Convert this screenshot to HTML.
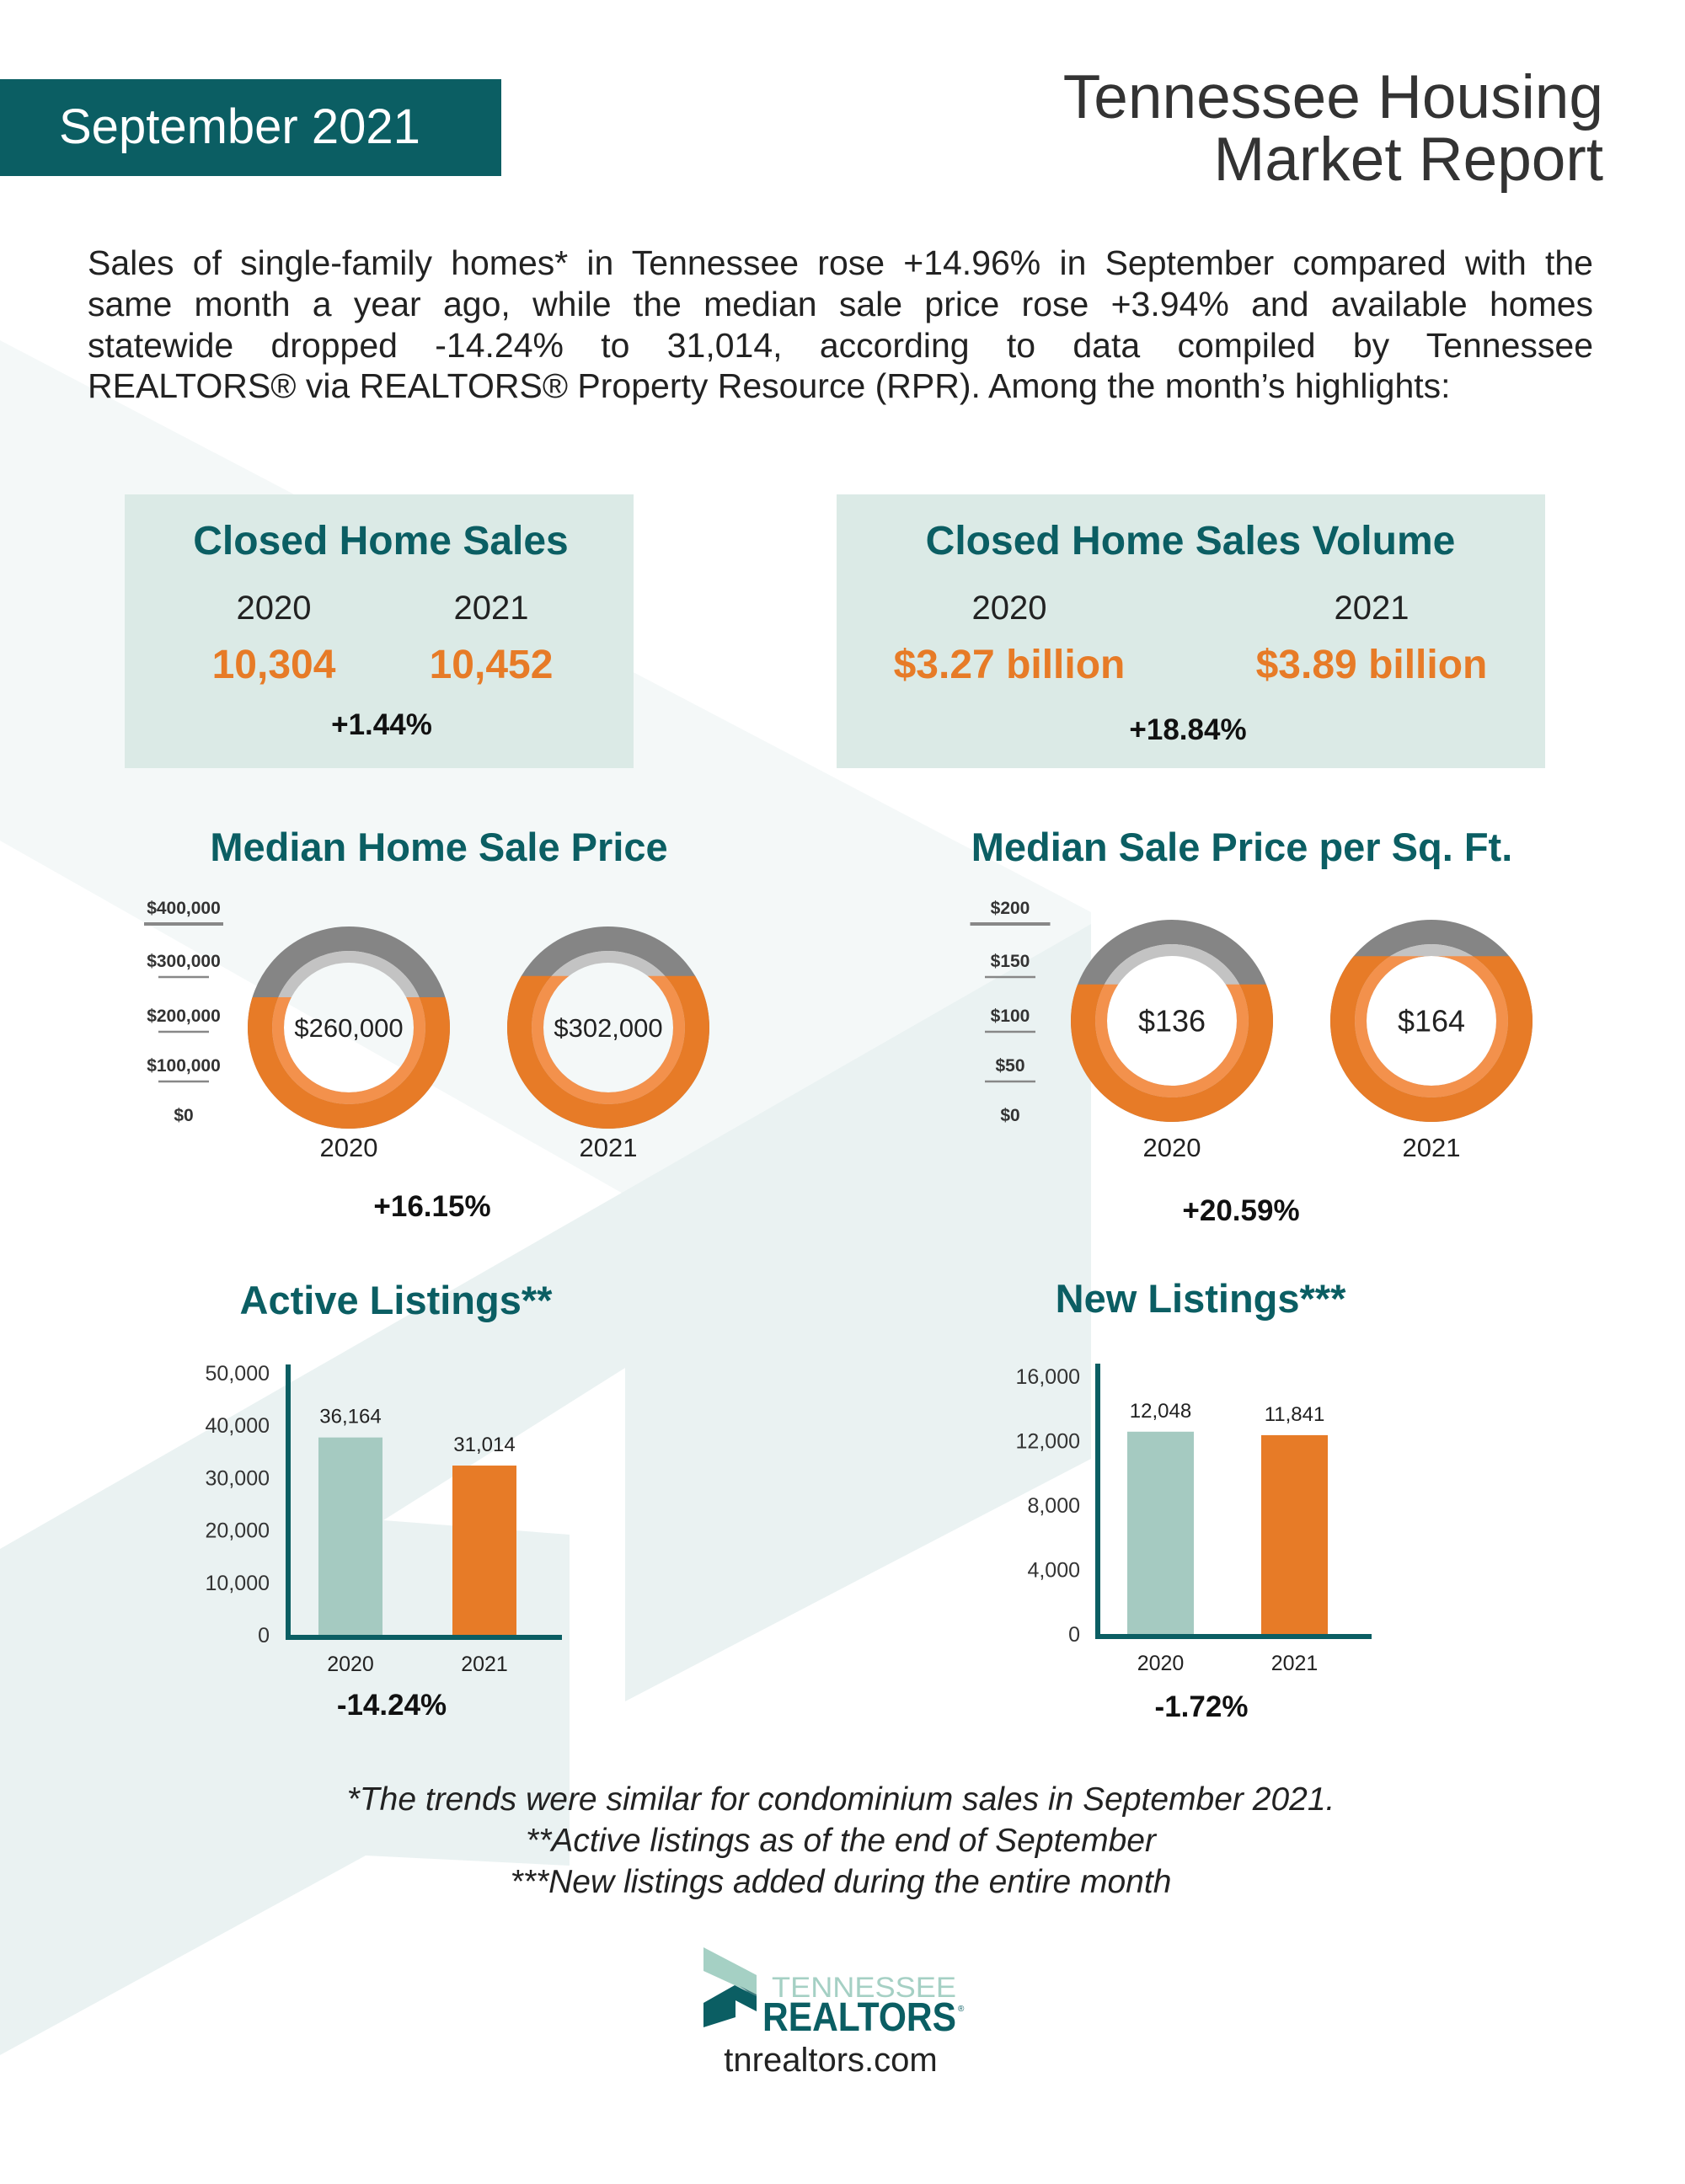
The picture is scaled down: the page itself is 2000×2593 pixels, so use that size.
<!DOCTYPE html>
<html><head><meta charset="utf-8"><style>
html,body{margin:0;padding:0;background:#fff;}
svg{display:block;font-family:"Liberation Sans",sans-serif;}
</style></head><body>
<svg id="page" width="2000" height="2593" viewBox="0 0 2000 2593" xmlns="http://www.w3.org/2000/svg">
<g>
<polygon points="0,404 1295,1083 1295,1732 0,998" fill="#f4f8f8"/>
<polygon points="0,1839 1295,1097 1295,1732 742,2020 742,1624 455,1805 676,1822 676,2215 434,2203 0,2440" fill="#eaf2f2"/>
</g>
<g>
<rect x="0" y="94" width="595" height="115" fill="#0b5e63"/>
<text x="70" y="170" font-size="58" fill="#fff">September 2021</text>
<text text-anchor="end" font-size="73" fill="#333">
<tspan x="1903" y="140">Tennessee Housing</tspan><tspan x="1903" y="214">Market Report</tspan></text>
</g>
<g font-size="41" fill="#222">
<text class="just" x="104" y="326" data-w="1787">Sales of single-family homes* in Tennessee rose +14.96% in September compared with the</text>
<text class="just" x="104" y="375" data-w="1787">same month a year ago, while the median sale price rose +3.94% and available homes</text>
<text class="just" x="104" y="424" data-w="1787">statewide dropped -14.24% to 31,014, according to data compiled by Tennessee</text>
<text class="fit" x="104" y="472" data-w="1710">REALTORS® via REALTORS® Property Resource (RPR). Among the month’s highlights:</text>
</g>
<g>
<rect x="148" y="587" width="604" height="325" fill="#dbeae6"/>
<text x="452" y="658" text-anchor="middle" font-size="48" font-weight="bold" fill="#0b5e63">Closed Home Sales</text>
<text x="325" y="735" text-anchor="middle" font-size="40" fill="#222">2020</text>
<text x="583" y="735" text-anchor="middle" font-size="40" fill="#222">2021</text>
<text x="325" y="805" text-anchor="middle" font-size="48" font-weight="bold" fill="#e77b27">10,304</text>
<text x="583" y="805" text-anchor="middle" font-size="48" font-weight="bold" fill="#e77b27">10,452</text>
<text x="453" y="872" text-anchor="middle" font-size="35" font-weight="bold" fill="#111">+1.44%</text>
</g>
<g>
<rect x="993" y="587" width="841" height="325" fill="#dbeae6"/>
<text x="1413" y="658" text-anchor="middle" font-size="48" font-weight="bold" fill="#0b5e63">Closed Home Sales Volume</text>
<text x="1198" y="735" text-anchor="middle" font-size="40" fill="#222">2020</text>
<text x="1628" y="735" text-anchor="middle" font-size="40" fill="#222">2021</text>
<text x="1198" y="805" text-anchor="middle" font-size="48" font-weight="bold" fill="#e77b27">$3.27 billion</text>
<text x="1628" y="805" text-anchor="middle" font-size="48" font-weight="bold" fill="#e77b27">$3.89 billion</text>
<text x="1410" y="878" text-anchor="middle" font-size="35" font-weight="bold" fill="#111">+18.84%</text>
</g>
<text x="521" y="1022" text-anchor="middle" font-size="47" font-weight="bold" fill="#0b5e63">Median Home Sale Price</text>
<text x="1474" y="1022" text-anchor="middle" font-size="47" font-weight="bold" fill="#0b5e63">Median Sale Price per Sq. Ft.</text>
<g id="donuts"></g>
<text x="513" y="1444" text-anchor="middle" font-size="35" font-weight="bold" fill="#111">+16.15%</text>
<text x="1473" y="1449" text-anchor="middle" font-size="35" font-weight="bold" fill="#111">+20.59%</text>
<text x="470" y="1560" text-anchor="middle" font-size="47" font-weight="bold" fill="#0b5e63">Active Listings**</text>
<text x="1425" y="1558" text-anchor="middle" font-size="47" font-weight="bold" fill="#0b5e63">New Listings***</text>
<g id="bars"></g>
<text x="465" y="2036" text-anchor="middle" font-size="35" font-weight="bold" fill="#111">-14.24%</text>
<text x="1426" y="2038" text-anchor="middle" font-size="35" font-weight="bold" fill="#111">-1.72%</text>
<g font-size="39" font-style="italic" fill="#222" text-anchor="middle">
<text x="998" y="2149">*The trends were similar for condominium sales in September 2021.</text>
<text x="998" y="2198">**Active listings as of the end of September</text>
<text x="998" y="2247">***New listings added during the entire month</text>
</g>
<g>
<polygon points="835,2312 898,2345 898,2368 872,2357 835,2340" fill="#a5d0c4"/>
<polygon points="878,2358 898,2368 898,2370 888,2365" fill="#3f7a7c"/>
<polygon points="835,2378 872,2357 898,2370 898,2388 873,2375 873,2395 835,2407" fill="#0b5e63"/>
<text x="916" y="2371" font-size="34" fill="#a5d0c4" textLength="219" lengthAdjust="spacingAndGlyphs">TENNESSEE</text>
<text x="905" y="2411" font-size="48" font-weight="bold" fill="#0b5e63" textLength="230" lengthAdjust="spacingAndGlyphs">REALTORS</text>
<text x="1137" y="2388" font-size="10" fill="#0b5e63">®</text>
<text x="986" y="2459" text-anchor="middle" font-size="40" fill="#222">tnrealtors.com</text>
</g>
</svg>
<script>
const NS='http://www.w3.org/2000/svg';
// Donut data
const priceYears=['2020','2021'];
const priceValues=[260000,302000];
const priceLabels=['$260,000','$302,000'];
const priceMax=400000;
const priceTicks=['$400,000','$300,000','$200,000','$100,000','$0'];
const sqftYears=['2020','2021'];
const sqftValues=[136,164];
const sqftLabels=['$136','$164'];
const sqftMax=200;
const sqftTicks=['$200','$150','$100','$50','$0'];
// Bar data
const activeYears=['2020','2021'];
const activeValues=[36164,31014];
const activeValueLabels=['36,164','31,014'];
const activeTicks=[50000,40000,30000,20000,10000,0];
const activeTickLabels=['50,000','40,000','30,000','20,000','10,000','0'];
const newYears=['2020','2021'];
const newValues=[12048,11841];
const newValueLabels=['12,048','11,841'];
const newTicks=[16000,12000,8000,4000,0];
const newTickLabels=['16,000','12,000','8,000','4,000','0'];

document.querySelectorAll('text.just').forEach(t=>{
  const target=+t.getAttribute('data-w');
  const len=t.getComputedTextLength();
  const gaps=(t.textContent.match(/ /g)||[]).length;
  if(gaps>0&&len<target){t.setAttribute('word-spacing',((target-len)/gaps).toFixed(2));}
  else if(len>target){t.setAttribute('textLength',target);t.setAttribute('lengthAdjust','spacingAndGlyphs');}
});
document.querySelectorAll('text.fit').forEach(t=>{
  const target=+t.getAttribute('data-w');
  if(t.getComputedTextLength()>target){t.setAttribute('textLength',target);t.setAttribute('lengthAdjust','spacingAndGlyphs');}
});

function mk(tag,attrs,parent){const e=document.createElementNS(NS,tag);for(const k in attrs)e.setAttribute(k,attrs[k]);parent.appendChild(e);return e;}
const dg=document.getElementById('donuts');
let clipId=0;
function donutChart(cfg){
  const g=mk('g',{},dg);
  
  
  cfg.ticks.forEach((t,i)=>{
    const ty=cfg.tickY[i];
    const tx=mk('text',{x:cfg.tickX,y:ty+7,'text-anchor':'middle','font-size':21,'font-weight':'bold',fill:'#333'},g);
    tx.textContent=t;
    
    
    if(i<cfg.ticks.length-1){
      const w=i===0?cfg.lineW0:cfg.lineW;
      const ln=mk('line',{x1:cfg.tickX-w/2,x2:cfg.tickX+w/2,y1:ty+19,y2:ty+19,stroke:'#888','stroke-width':i===0?4:2.5},g);
      
      
    }
  });
  const R=120;
  cfg.values.forEach((v,i)=>{
    const cx=cfg.cx[i], cy=cfg.cy;
    const d=mk('g',{},g);
    
    
    mk('circle',{cx:cx,cy:cy,r:105.5,fill:'none',stroke:'#858585','stroke-width':29},d);
    mk('circle',{cx:cx,cy:cy,r:84,fill:'none',stroke:'#c3c3c3','stroke-width':14},d);
    const id='clip'+(clipId++);
    const cp=mk('clipPath',{id:id},d);
    const cut=cy+R-(v/cfg.max)*2*R;
    mk('rect',{x:cx-R-2,y:cut,width:2*R+4,height:cy+R-cut+2},cp);
    const og=mk('g',{'clip-path':'url(#'+id+')'},d);
    
    
    mk('circle',{cx:cx,cy:cy,r:105.5,fill:'none',stroke:'#e77b27','stroke-width':29},og);
    mk('circle',{cx:cx,cy:cy,r:84,fill:'none',stroke:'#f3914c','stroke-width':14},og);
    const lt=mk('text',{x:cx,y:cy+cfg.fs*0.35,'text-anchor':'middle','font-size':cfg.fs,fill:'#222'},d);
    lt.textContent=cfg.labels[i];
    
    
    const yt=mk('text',{x:cx,y:1373,'text-anchor':'middle','font-size':31,fill:'#222'},d);
    yt.textContent=cfg.years[i];
    
    
  });
}
donutChart({name:'median-price-donuts',ticks:priceTicks,tickX:218,tickY:[1078,1141,1206,1265,1324],lineW0:94,lineW:60,values:priceValues,labels:priceLabels,years:priceYears,max:priceMax,cx:[414,722],cy:1220,fs:31});
donutChart({name:'sqft-price-donuts',ticks:sqftTicks,tickX:1199,tickY:[1078,1141,1206,1265,1324],lineW0:95,lineW:60,values:sqftValues,labels:sqftLabels,years:sqftYears,max:sqftMax,cx:[1391,1699],cy:1212,fs:36});

const bg=document.getElementById('bars');
function barChart(cfg){
  const g=mk('g',{},bg);
  
  
  const y=v=>cfg.y0-(v/cfg.max)*(cfg.y0-cfg.yTop);
  cfg.ticks.forEach((t,i)=>{
    const ty=y(t)+(cfg.y0-y(t))*cfg.labShrink;
    const tx=mk('text',{x:cfg.labX,y:ty+9,'text-anchor':'end','font-size':25,fill:'#333'},g);
    tx.textContent=cfg.tickLabels[i];
    
    
  });
  cfg.values.forEach((v,i)=>{
    const bx=cfg.barX[i];
    const r=mk('rect',{x:bx,y:y(v),width:cfg.barW,height:cfg.y0-y(v),fill:cfg.colors[i]},g);
    
    
    const vt=mk('text',{x:bx+cfg.barW/2,y:y(v)-17,'text-anchor':'middle','font-size':24,fill:'#222'},g);
    vt.textContent=cfg.valueLabels[i];
    
    
    const yt=mk('text',{x:bx+cfg.barW/2,y:cfg.y0+43,'text-anchor':'middle','font-size':25,fill:'#222'},g);
    yt.textContent=cfg.years[i];
    
    
  });
  const ax=mk('path',{d:'M'+cfg.axX+','+cfg.axTop+' L'+cfg.axX+','+(cfg.y0+3)+' L'+cfg.axRight+','+(cfg.y0+3),fill:'none',stroke:'#0b5e63','stroke-width':6},g);
  
  
}
barChart({name:'active-listings-chart',max:50000,y0:1941,yTop:1617,ticks:activeTicks,tickLabels:activeTickLabels,labX:320,labShrink:0.04,values:activeValues,valueLabels:activeValueLabels,years:activeYears,barX:[378,537],barW:76,colors:['#a5cac1','#e77b27'],axX:342,axTop:1620,axRight:667});
barChart({name:'new-listings-chart',max:16000,y0:1940,yTop:1621,ticks:newTicks,tickLabels:newTickLabels,labX:1282,labShrink:0.04,values:newValues,valueLabels:newValueLabels,years:newYears,barX:[1338,1497],barW:79,colors:['#a5cac1','#e77b27'],axX:1303,axTop:1619,axRight:1628});
</script>
</body></html>
